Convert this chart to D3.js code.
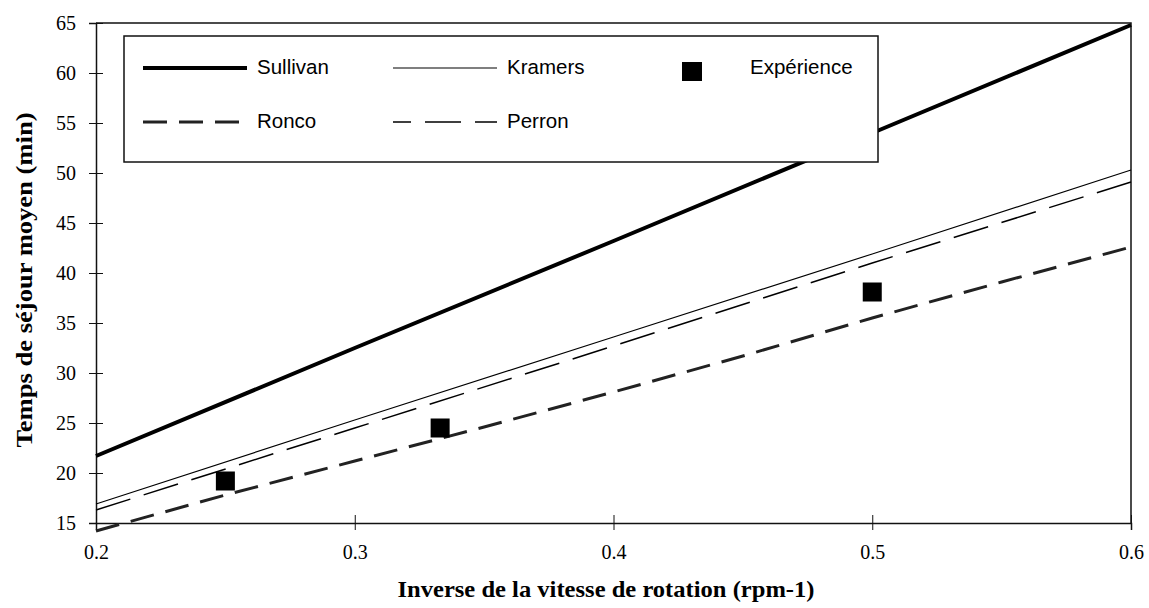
<!DOCTYPE html>
<html>
<head>
<meta charset="utf-8">
<script src="https://cdn.jsdelivr.net/npm/d3@7"></script>
<style>
  html, body { margin: 0; padding: 0; background: #fff; }
  svg { display: block; }
</style>
</head>
<body>
<svg id="chart" width="1149" height="608"></svg>
<script>
// ---- data ----
const xTicks = [0.2, 0.3, 0.4, 0.5, 0.6];
const yTicks = [15, 20, 25, 30, 35, 40, 45, 50, 55, 60, 65];

const sullivanX = [0.2, 0.3, 0.4, 0.5, 0.6];
const sullivanY = [21.7, 32.5, 43.2, 54.0, 64.8];

const kramersX = [0.2, 0.3, 0.4, 0.5, 0.6];
const kramersY = [16.9, 25.3, 33.6, 41.9, 50.3];

const perronX = [0.2, 0.3, 0.4, 0.5, 0.6];
const perronY = [16.3, 24.5, 32.7, 41.0, 49.1];

const roncoX = [0.2, 0.25, 0.3, 0.35, 0.4, 0.45, 0.5, 0.55, 0.6];
const roncoY = [14.2, 17.8, 21.2, 24.6, 28.1, 31.7, 35.5, 39.1, 42.6];

const expX = [0.25, 0.333, 0.5];
const expY = [19.2, 24.5, 38.1];

const seriesNames = ["Sullivan", "Kramers", "Expérience", "Ronco", "Perron"];
const xTitle = "Inverse de la vitesse de rotation (rpm-1)";
const yTitle = "Temps de séjour moyen (min)";

// ---- layout ----
const svg = d3.select("#chart");
const pL = 96, pR = 1131, pT = 23, pB = 523;

const x = d3.scaleLinear().domain([0.2, 0.6]).range([pL, pR]);
const y = d3.scaleLinear().domain([15, 65]).range([pB, pT]);

const serif = "'Liberation Serif', 'Times New Roman', serif";
const sans = "'Liberation Sans', Arial, sans-serif";

// frame (top & right)
svg.append("path")
  .attr("d", `M${pL},${pT}H${pR}V${pB}`)
  .attr("fill", "none").attr("stroke", "#111").attr("stroke-width", 1.5);

// axes
const gy = svg.append("g").attr("transform", `translate(${pL},0)`)
  .call(d3.axisLeft(y).tickValues(yTicks).tickSize(7).tickPadding(13).tickFormat(d3.format("d")));
gy.select(".domain").attr("stroke", "#111").attr("stroke-width", 1.5);
gy.selectAll(".tick line").attr("x1", 7).attr("x2", -7).attr("stroke", "#111");
gy.selectAll(".tick text").attr("font-family", serif).attr("font-size", 20).attr("fill", "#000");

const gx = svg.append("g").attr("transform", `translate(0,${pB})`)
  .call(d3.axisBottom(x).tickValues(xTicks).tickSize(7).tickPadding(15).tickFormat(d3.format(".1f")));
gx.select(".domain").attr("stroke", "#111").attr("stroke-width", 1.5);
gx.selectAll(".tick line").attr("y1", -8).attr("y2", 7).attr("stroke", "#111");
gx.selectAll(".tick text").attr("font-family", serif).attr("font-size", 20).attr("fill", "#000");

// lines
const line = d3.line().x(d => x(d[0])).y(d => y(d[1]));
const zip = (a, b) => a.map((v, i) => [v, b[i]]);

svg.append("path").datum(zip(kramersX, kramersY)).attr("d", line)
  .attr("fill", "none").attr("stroke", "#000").attr("stroke-width", 1.2);
svg.append("path").datum(zip(perronX, perronY)).attr("d", line)
  .attr("fill", "none").attr("stroke", "#000").attr("stroke-width", 1.5)
  .attr("stroke-dasharray", "36,14");
svg.append("path").datum(zip(roncoX, roncoY)).attr("d", line)
  .attr("fill", "none").attr("stroke", "#222").attr("stroke-width", 3)
  .attr("stroke-dasharray", "24,12");
svg.append("path").datum(zip(sullivanX, sullivanY)).attr("d", line)
  .attr("fill", "none").attr("stroke", "#000").attr("stroke-width", 4);

// experimental points
const sq = 19;
svg.selectAll("rect.exp").data(zip(expX, expY)).enter().append("rect")
  .attr("class", "exp")
  .attr("x", d => x(d[0]) - sq / 2).attr("y", d => y(d[1]) - sq / 2)
  .attr("width", sq).attr("height", sq).attr("fill", "#000");

// legend
const lg = svg.append("g");
lg.append("rect").attr("x", 124).attr("y", 36).attr("width", 754).attr("height", 126)
  .attr("fill", "#fff").attr("stroke", "#111").attr("stroke-width", 1.5);

const legendItems = [
  { name: seriesNames[0], kind: "line", x0: 143, y0: 68, w: 4, dash: null },
  { name: seriesNames[1], kind: "line", x0: 393, y0: 68, w: 1.2, dash: null },
  { name: seriesNames[2], kind: "square", x0: 682, y0: 68 },
  { name: seriesNames[3], kind: "line", x0: 143, y0: 122, w: 3, dash: "24,12", color: "#222" },
  { name: seriesNames[4], kind: "line", x0: 393, y0: 122, w: 1.5, dash: "36,14", offset: 18 }
];
legendItems.forEach(it => {
  if (it.kind === "line") {
    const p = lg.append("line").attr("x1", it.x0).attr("x2", it.x0 + 104)
      .attr("y1", it.y0).attr("y2", it.y0)
      .attr("stroke", it.color || "#000").attr("stroke-width", it.w);
    if (it.dash) p.attr("stroke-dasharray", it.dash);
    if (it.offset) p.attr("stroke-dashoffset", it.offset);
    lg.append("text").attr("x", it.x0 + 114).attr("y", it.y0 + 6)
      .attr("font-family", sans).attr("font-size", 20.5).attr("fill", "#000").text(it.name);
  } else {
    lg.append("rect").attr("x", it.x0).attr("y", it.y0 - 6).attr("width", 20).attr("height", 19)
      .attr("fill", "#000");
    lg.append("text").attr("x", 750).attr("y", it.y0 + 6)
      .attr("font-family", sans).attr("font-size", 20.5).attr("fill", "#000").text(it.name);
  }
});

// titles
svg.append("text").attr("x", 606).attr("y", 597).attr("text-anchor", "middle")
  .attr("font-family", serif).attr("font-weight", "bold").attr("font-size", 23)
  .attr("textLength", 417).attr("lengthAdjust", "spacingAndGlyphs")
  .text(xTitle);
svg.append("text").attr("transform", "translate(32,280) rotate(-90)").attr("text-anchor", "middle")
  .attr("font-family", serif).attr("font-weight", "bold").attr("font-size", 23)
  .attr("textLength", 335).attr("lengthAdjust", "spacingAndGlyphs")
  .text(yTitle);
</script>
</body>
</html>
